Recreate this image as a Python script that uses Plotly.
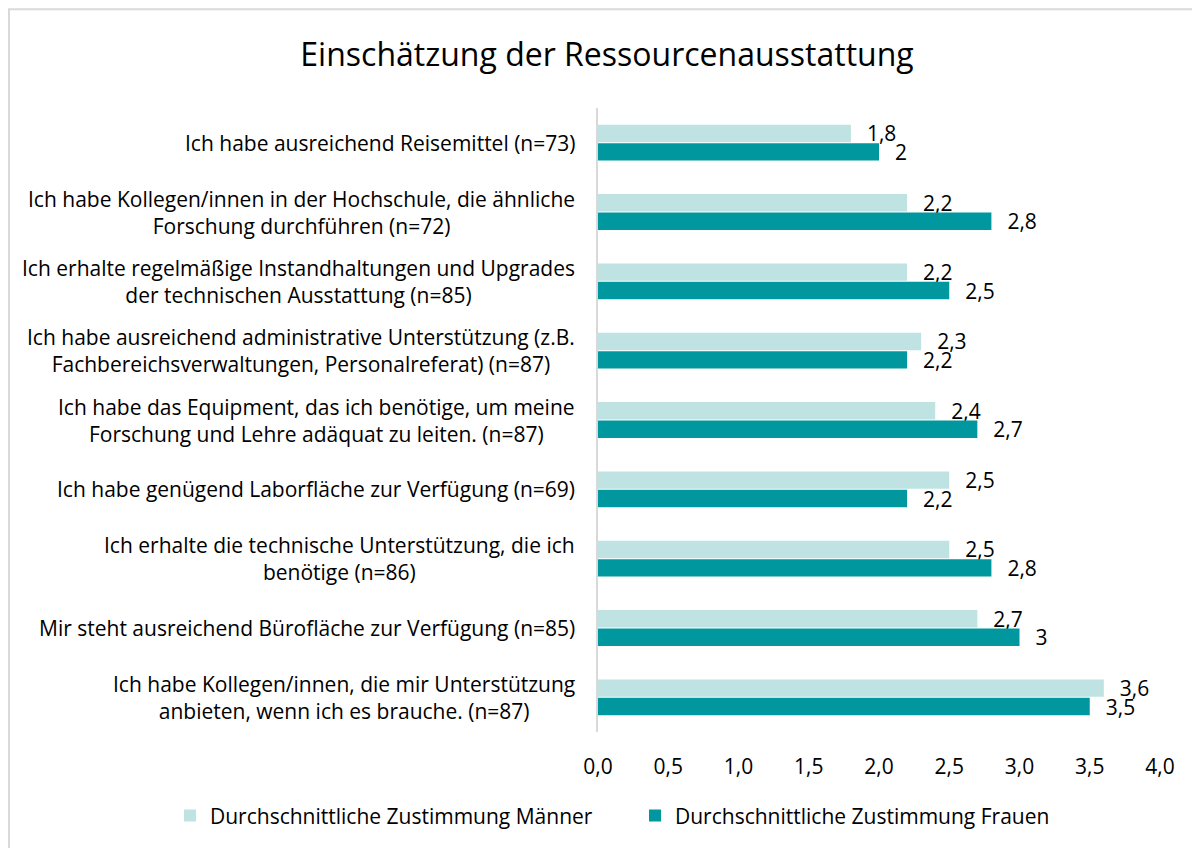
import plotly.graph_objects as go

categories = [
    "Ich habe ausreichend Reisemittel (n=73)",
    "Ich habe Kollegen/innen in der Hochschule, die ähnliche<br>Forschung durchführen (n=72)",
    "Ich erhalte regelmäßige Instandhaltungen und Upgrades<br>der technischen Ausstattung (n=85)",
    "Ich habe ausreichend administrative Unterstützung (z.B.<br>Fachbereichsverwaltungen, Personalreferat) (n=87)",
    "Ich habe das Equipment, das ich benötige, um meine<br>Forschung und Lehre adäquat zu leiten. (n=87)",
    "Ich habe genügend Laborfläche zur Verfügung (n=69)",
    "Ich erhalte die technische Unterstützung, die ich<br>benötige (n=86)",
    "Mir steht ausreichend Bürofläche zur Verfügung (n=85)",
    "Ich habe Kollegen/innen, die mir Unterstützung<br>anbieten, wenn ich es brauche. (n=87)",
]
maenner = [1.8, 2.2, 2.2, 2.3, 2.4, 2.5, 2.5, 2.7, 3.6]
frauen = [2.0, 2.8, 2.5, 2.2, 2.7, 2.2, 2.8, 3.0, 3.5]
series_names = ["Durchschnittliche Zustimmung Männer", "Durchschnittliche Zustimmung Frauen"]
colors = ["#BEE3E2", "#00979F"]
x_ticks = [0, 0.5, 1, 1.5, 2, 2.5, 3, 3.5, 4]

FONT = "Open Sans"
FS = 21
PAD = "\u00a0\u00a0\u200a"

def fmt(v):
    return PAD + f"{v:g}".replace(".", ",")

ids = [f"c{i}" for i in range(len(categories))]

fig = go.Figure()
for name, vals, col in zip(series_names, [maenner, frauen], colors):
    fig.add_trace(go.Bar(
        y=ids, x=vals, name=name, orientation="h",
        marker=dict(color=col, line=dict(width=0)),
        text=[fmt(v) for v in vals], textposition="outside",
        textfont=dict(family=FONT, size=FS, color="#000000"),
        constraintext="none", cliponaxis=False,
    ))

for cid, lab in zip(ids, categories):
    fig.add_annotation(
        x=0, xref="paper", y=cid, yref="y", text=lab, showarrow=False,
        xanchor="right", yanchor="middle", align="center", xshift=-21,
        font=dict(family=FONT, size=FS, color="#000000"),
    )

# page has an 8px body margin; figure coords = reference coords - 8
W, H = 1192, 840
L, R, T, B = 590, 40, 100, 114
pw, ph = W - L - R, H - T - B
def px(xp):
    return (xp - L) / pw
def py(yp):
    return (H - B - yp) / ph

fig.add_shape(type="rect", xref="paper", yref="paper",
              x0=px(1), x1=px(1215), y0=py(870), y1=py(1),
              line=dict(color="#D9D9D9", width=2), fillcolor="rgba(0,0,0,0)", layer="below")

fig.update_layout(
    width=W, height=H,
    margin=dict(l=L, r=R, t=T, b=B),
    paper_bgcolor="white", plot_bgcolor="white",
    separators=",.",
    barmode="group", bargap=0.47, bargroupgap=0.05,
    title=dict(text="Einschätzung der Ressourcenausstattung", x=599 / W, xanchor="center",
               y=1 - 47 / H, yanchor="middle", xref="container", yref="container",
               font=dict(family=FONT, size=32, color="#000000")),
    xaxis=dict(range=[0, 4], tickvals=x_ticks, tickformat=".1f", showgrid=False,
               zeroline=False, showline=False, ticks="outside", ticklen=16,
               tickcolor="rgba(0,0,0,0)",
               tickfont=dict(family=FONT, size=FS, color="#000000")),
    yaxis=dict(categoryorder="array", categoryarray=ids, autorange="reversed",
               showticklabels=False, showgrid=False, zeroline=False, ticks="",
               showline=True, linecolor="#D9D9D9", linewidth=2),
    legend=dict(orientation="h", x=px(162), xref="paper", y=py(810),
                yref="paper", yanchor="middle", xanchor="left",
                font=dict(family=FONT, size=FS, color="#000000"),
                traceorder="normal", entrywidth=420, entrywidthmode="pixels"),
    showlegend=True,
)

fig.write_html("out.html")
